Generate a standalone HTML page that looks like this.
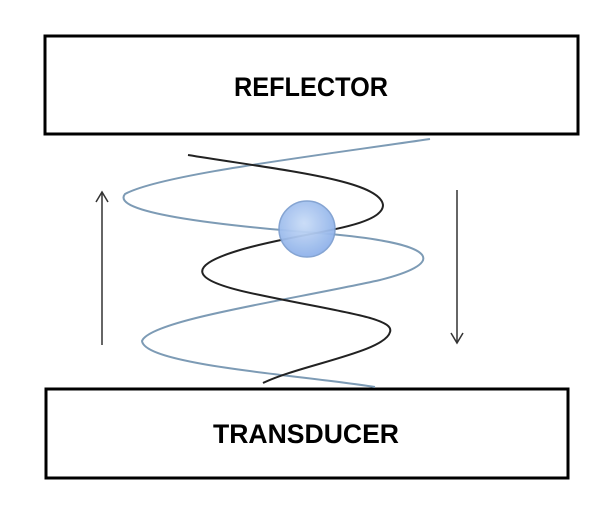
<!DOCTYPE html>
<html><head><style>
html,body{margin:0;padding:0;background:#fff;}
svg{display:block;}
text{font-family:"Liberation Sans",sans-serif;font-weight:bold;}
</style></head><body>
<svg width="601" height="512" viewBox="0 0 601 512">
<defs>
<radialGradient id="g" cx="45%" cy="40%" r="60%">
<stop offset="0" stop-color="#c9dcf7"/><stop offset="1" stop-color="#8fb2ea"/>
</radialGradient>
</defs>
<rect x="45" y="36" width="533" height="98" fill="#fff" stroke="#000" stroke-width="3"/>
<text x="311" y="96" font-size="27" text-anchor="middle" textLength="154" lengthAdjust="spacingAndGlyphs">REFLECTOR</text>
<rect x="46" y="389" width="522" height="89" fill="#fff" stroke="#000" stroke-width="3"/>
<text x="306" y="443" font-size="27" text-anchor="middle" textLength="186" lengthAdjust="spacingAndGlyphs">TRANSDUCER</text>
<path d="M430 139 C300 158 160 175 125 194 C110 212 210 225 330 234 C450 245 440 265 380 280 C290 300 150 320 142 341 C145 365 300 375 375 387" fill="none" stroke="#7d9bb5" stroke-width="2"/>
<path d="M188 155 C280 170 380 180 383 205 C383 228 300 232 240 250 C180 268 195 282 260 295 C340 312 395 318 390 332 C385 352 300 365 263 383" fill="none" stroke="#222" stroke-width="2"/>
<circle cx="307" cy="229" r="28" fill="url(#g)" stroke="#7fa0d0" stroke-width="1.5" opacity="0.95"/>
<line x1="102" y1="345" x2="102" y2="192" stroke="#333" stroke-width="1.5"/>
<polyline points="96,202 102,192 108,202" fill="none" stroke="#333" stroke-width="1.5"/>
<line x1="457" y1="190" x2="457" y2="343" stroke="#333" stroke-width="1.5"/>
<polyline points="451,333 457,343 463,333" fill="none" stroke="#333" stroke-width="1.5"/>
</svg>
</body></html>
